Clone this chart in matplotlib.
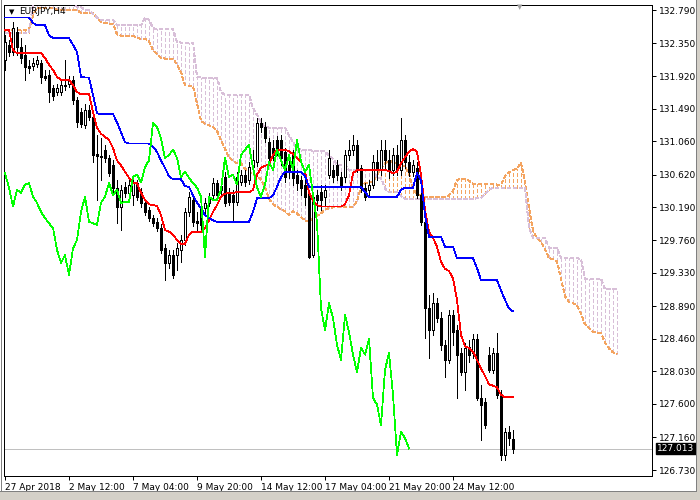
import numpy as np
import matplotlib
matplotlib.use("Agg")
import matplotlib.pyplot as plt
from matplotlib.patches import Rectangle
import matplotlib.transforms as mtransforms

symbol = "EURJPY,H4"

opens = [132.13, 132.33, 132.24, 132.50, 132.30, 132.20, 132.05, 132.05, 132.08, 132.09,
         131.92, 131.93, 131.76, 131.71, 131.71, 131.79, 131.82, 131.87, 131.61, 131.45,
         131.28, 131.47, 131.38, 130.89, 130.87, 130.95, 130.84, 130.75, 130.45, 130.20,
         130.46, 130.38, 130.35, 130.51, 130.39, 130.25, 130.16, 130.05, 130.00, 129.92,
         129.65, 129.46, 129.56, 129.56, 129.63, 129.76, 130.13, 130.29, 130.01, 130.18,
         130.18, 130.25, 130.35, 130.51, 130.47, 130.59, 130.39, 130.35, 130.26, 130.52,
         130.62, 130.55, 130.72, 130.79, 131.30, 131.25, 131.05, 130.97, 131.08, 131.08,
         130.92, 130.75, 130.88, 130.62, 130.55, 130.49, 130.38, 129.56, 130.35, 130.39,
         130.33, 130.62, 130.68, 130.75, 130.59, 130.59, 130.88, 130.95, 131.01, 130.71,
         130.45, 130.42, 130.49, 130.79, 130.68, 130.95, 130.81, 130.68, 130.88, 130.68,
         131.08, 130.79, 130.66, 130.71, 130.35, 130.00, 128.86, 128.57, 128.93, 128.73,
         128.38, 128.18, 128.77, 128.57, 128.27, 128.02, 128.35, 128.27, 128.46, 127.68,
         127.63, 128.25, 128.05, 128.27, 127.72, 126.93, 127.23, 127.14]

highs = [132.46, 132.40, 132.63, 132.57, 132.42, 132.33, 132.13, 132.16, 132.18, 132.13,
         132.00, 132.00, 131.80, 131.82, 131.87, 132.13, 131.92, 131.92, 131.64, 131.50,
         131.55, 131.54, 131.45, 131.14, 131.10, 131.01, 130.88, 130.81, 130.55, 130.49,
         130.52, 130.55, 130.58, 130.55, 130.45, 130.29, 130.20, 130.09, 130.05, 129.97,
         129.71, 129.63, 129.63, 129.72, 129.83, 130.18, 130.39, 130.35, 130.13, 130.23,
         130.31, 130.38, 130.58, 130.55, 130.55, 130.66, 130.45, 130.42, 130.66, 130.68,
         130.68, 130.79, 130.95, 131.37, 131.37, 131.31, 131.10, 131.08, 131.13, 131.14,
         130.97, 130.81, 130.95, 130.68, 130.60, 130.55, 130.42, 130.38, 130.42, 130.49,
         130.49, 130.95, 130.75, 130.81, 130.66, 130.95, 131.08, 131.14, 131.08, 130.75,
         130.51, 130.55, 130.88, 130.95, 131.08, 131.08, 130.95, 130.97, 131.01, 131.37,
         131.14, 130.88, 130.81, 130.79, 130.42, 130.05, 129.04, 129.06, 129.00, 128.81,
         128.44, 128.84, 128.84, 128.64, 128.34, 128.40, 128.44, 128.52, 128.52, 127.85,
         127.68, 128.35, 128.34, 128.54, 127.78, 127.28, 127.31, 127.26]

lows = [132.00, 132.18, 132.20, 132.20, 132.09, 131.87, 131.96, 132.00, 132.04, 131.83,
        131.87, 131.58, 131.61, 131.67, 131.67, 131.74, 131.78, 131.55, 131.25, 131.25,
        131.24, 131.34, 130.79, 130.29, 130.55, 130.79, 130.60, 130.39, 129.98, 129.89,
        130.33, 130.34, 130.22, 130.29, 130.20, 130.09, 130.01, 129.94, 129.88, 129.59,
        129.23, 129.39, 129.26, 129.37, 129.47, 129.69, 130.08, 129.94, 129.89, 129.89,
        130.10, 130.21, 130.31, 130.29, 130.35, 130.21, 130.22, 130.00, 130.22, 130.49,
        130.47, 130.50, 130.66, 130.74, 131.18, 131.05, 130.77, 130.81, 130.88, 130.75,
        130.52, 130.58, 130.49, 130.42, 130.35, 130.22, 129.52, 129.54, 130.16, 130.16,
        130.22, 130.58, 130.52, 130.55, 130.42, 130.52, 130.81, 130.88, 130.66, 130.39,
        130.29, 130.35, 130.45, 130.55, 130.62, 130.71, 130.58, 130.62, 130.62, 130.62,
        130.71, 130.60, 130.60, 130.31, 129.96, 128.47, 128.21, 128.51, 128.68, 128.31,
        127.96, 128.14, 128.38, 127.68, 127.98, 127.78, 128.15, 128.21, 127.65, 127.13,
        127.28, 128.02, 128.01, 127.68, 126.86, 126.86, 127.06, 126.95]

closes = [132.37, 132.24, 132.55, 132.30, 132.16, 132.04, 132.03, 132.09, 132.13, 131.91,
          131.90, 131.71, 131.66, 131.76, 131.80, 131.80, 131.87, 131.61, 131.31, 131.29,
          131.47, 131.38, 130.88, 130.87, 130.85, 130.84, 130.64, 130.45, 130.20, 130.42,
          130.38, 130.49, 130.51, 130.33, 130.25, 130.13, 130.05, 129.98, 129.92, 129.63,
          129.46, 129.56, 129.30, 129.65, 129.76, 130.13, 130.33, 130.00, 129.98, 129.96,
          130.25, 130.33, 130.51, 130.35, 130.42, 130.25, 130.26, 130.26, 130.59, 130.62,
          130.52, 130.72, 130.81, 131.30, 131.25, 131.10, 130.84, 130.88, 130.95, 130.84,
          130.59, 130.66, 130.58, 130.51, 130.45, 130.33, 129.54, 130.33, 130.29, 130.29,
          130.42, 130.84, 130.59, 130.62, 130.49, 130.88, 130.95, 131.01, 130.71, 130.45,
          130.33, 130.49, 130.79, 130.68, 130.95, 130.81, 130.68, 130.88, 130.68, 131.08,
          130.79, 130.66, 130.75, 130.35, 130.00, 128.86, 128.57, 128.93, 128.73, 128.38,
          128.18, 128.77, 128.55, 128.25, 128.02, 128.34, 128.25, 128.46, 127.68, 127.59,
          127.32, 128.05, 128.27, 127.72, 126.93, 127.23, 127.15, 127.013]

tenkan = [132.53, 132.53, 132.26, 132.22, 132.22, 132.22, 132.22, 132.22, 132.22, 132.22,
          132.16, 132.07, 132.00, 131.91, 131.87, 131.87, 131.87, 131.80, 131.71, 131.68,
          131.68, 131.68, 131.45, 131.24, 131.16, 131.12, 131.08, 130.97, 130.81, 130.74,
          130.66, 130.58, 130.51, 130.51, 130.38, 130.29, 130.23, 130.22, 130.21, 130.09,
          129.89, 129.87, 129.83, 129.76, 129.71, 129.71, 129.83, 129.87, 129.87, 129.87,
          129.92, 130.02, 130.13, 130.22, 130.33, 130.37, 130.38, 130.38, 130.39, 130.39,
          130.39, 130.39, 130.42, 130.62, 130.71, 130.74, 130.75, 130.88, 130.95, 130.95,
          130.95, 130.93, 130.89, 130.84, 130.79, 130.66, 130.39, 130.27, 130.22, 130.20,
          130.20, 130.20, 130.20, 130.20, 130.20, 130.23, 130.35, 130.64, 130.68, 130.68,
          130.68, 130.68, 130.68, 130.68, 130.68, 130.68, 130.67, 130.64, 130.66, 130.77,
          130.85, 130.92, 130.96, 130.92, 130.62, 130.16, 129.87, 129.79, 129.67, 129.47,
          129.38, 129.35, 129.26, 128.97, 128.51, 128.36, 128.34, 128.29, 128.18, 128.07,
          127.97, 127.86, 127.84, 127.82, 127.72, 127.69, 127.69, 127.69]

kijun = [132.69, 132.69, 132.69, 132.69, 132.69, 132.69, 132.69, 132.62, 132.59, 132.59,
         132.59, 132.46, 132.42, 132.42, 132.42, 132.42, 132.42, 132.33, 132.24, 131.91,
         131.90, 131.90, 131.67, 131.43, 131.42, 131.42, 131.42, 131.42, 131.31, 131.18,
         131.05, 131.03, 131.03, 131.03, 131.03, 131.03, 131.03, 130.99, 130.92, 130.81,
         130.71, 130.60, 130.56, 130.56, 130.56, 130.47, 130.46, 130.35, 130.25, 130.18,
         130.09, 130.05, 130.02, 130.00, 130.00, 130.00, 130.00, 130.00, 130.00, 130.00,
         130.00, 130.00, 130.13, 130.31, 130.31, 130.31, 130.31, 130.35, 130.46, 130.59,
         130.66, 130.66, 130.66, 130.66, 130.66, 130.60, 130.46, 130.46, 130.46, 130.46,
         130.46, 130.46, 130.46, 130.46, 130.46, 130.46, 130.46, 130.46, 130.46, 130.46,
         130.39, 130.33, 130.33, 130.33, 130.33, 130.33, 130.33, 130.33, 130.33, 130.42,
         130.45, 130.45, 130.45, 130.64, 130.55, 130.09, 129.80, 129.80, 129.80, 129.80,
         129.67, 129.67, 129.67, 129.52, 129.52, 129.52, 129.52, 129.52, 129.39, 129.23,
         129.23, 129.23, 129.23, 129.23, 129.10, 128.97, 128.86, 128.82]

senkou_a = [132.53, 132.53, 132.53, 132.53, 132.53, 132.53, 132.53, 132.72, 132.82, 132.82,
            132.82, 132.82, 132.82, 132.79, 132.79, 132.79, 132.79, 132.79, 132.79, 132.75,
            132.75, 132.75, 132.75, 132.69, 132.63, 132.62, 132.61, 132.61, 132.47, 132.45,
            132.45, 132.45, 132.45, 132.42, 132.41, 132.41, 132.38, 132.26, 132.21, 132.16,
            132.15, 132.15, 132.15, 132.07, 131.97, 131.80, 131.79, 131.79, 131.56, 131.33,
            131.29, 131.27, 131.25, 131.20, 131.07, 130.96, 130.85, 130.80, 130.77, 130.77,
            130.70, 130.66, 130.63, 130.60, 130.56, 130.45, 130.30, 130.23, 130.20, 130.16,
            130.14, 130.09, 130.14, 130.11, 130.06, 130.02, 130.00, 130.04, 130.08, 130.11,
            130.16, 130.18, 130.19, 130.19, 130.20, 130.20, 130.20, 130.20, 130.27, 130.46,
            130.51, 130.52, 130.53, 130.62, 130.70, 130.77, 130.80, 130.79, 130.77, 130.75,
            130.72, 130.63, 130.43, 130.37, 130.34, 130.33, 130.33, 130.33, 130.33, 130.33,
            130.33, 130.35, 130.41, 130.55, 130.57, 130.57, 130.54, 130.50, 130.50, 130.50,
            130.50, 130.50, 130.50, 130.49, 130.49, 130.60, 130.65, 130.68, 130.70, 130.78,
            130.52, 130.19, 129.88, 129.79, 129.73, 129.64, 129.52, 129.51, 129.48, 129.25,
            129.02, 128.94, 128.93, 128.90, 128.79, 128.65, 128.60, 128.55, 128.54, 128.53,
            128.41, 128.33, 128.28, 128.26]

senkou_b = [132.49, 132.49, 132.49, 132.49, 132.49, 132.49, 132.49, 132.87, 132.87, 132.87,
            132.87, 132.87, 132.87, 132.87, 132.87, 132.87, 132.87, 132.87, 132.83, 132.83,
            132.79, 132.79, 132.74, 132.69, 132.66, 132.66, 132.66, 132.66, 132.59, 132.59,
            132.59, 132.59, 132.59, 132.59, 132.59, 132.69, 132.66, 132.55, 132.54, 132.54,
            132.54, 132.54, 132.54, 132.37, 132.36, 132.36, 132.36, 132.36, 131.91, 131.90,
            131.90, 131.90, 131.90, 131.90, 131.71, 131.67, 131.67, 131.67, 131.67, 131.67,
            131.67, 131.67, 131.50, 131.41, 131.31, 131.25, 131.24, 131.24, 131.24, 131.24,
            131.24, 131.14, 131.05, 130.97, 130.95, 130.95, 130.95, 130.93, 130.93, 130.93,
            130.93, 130.87, 130.83, 130.75, 130.75, 130.75, 130.68, 130.68, 130.68, 130.68,
            130.68, 130.68, 130.68, 130.58, 130.58, 130.44, 130.39, 130.39, 130.39, 130.34,
            130.30, 130.30, 130.30, 130.30, 130.30, 130.30, 130.30, 130.30, 130.30, 130.30,
            130.30, 130.30, 130.30, 130.30, 130.30, 130.30, 130.30, 130.30, 130.31, 130.31,
            130.37, 130.42, 130.45, 130.45, 130.45, 130.45, 130.45, 130.45, 130.45, 130.45,
            130.45, 129.92, 129.79, 129.79, 129.79, 129.79, 129.66, 129.66, 129.66, 129.52,
            129.52, 129.52, 129.52, 129.52, 129.51, 129.25, 129.25, 129.25, 129.25, 129.25,
            129.11, 129.11, 129.11, 129.11]

chikou_shift = 26
price_ticks = [132.790, 132.350, 131.920, 131.490, 131.060, 130.620, 130.190, 129.760,
               129.330, 128.890, 128.460, 128.030, 127.600, 127.160, 126.730]
date_labels = ["27 Apr 2018", "2 May 12:00", "7 May 04:00", "9 May 20:00",
               "14 May 12:00", "17 May 04:00", "21 May 20:00", "24 May 12:00"]
date_bars = [0, 16, 32, 48, 64, 80, 96, 112]
last_price = 127.013

# ---------------------------------------------------------------- figure
W, H = 700, 500
fig = plt.figure(figsize=(7, 5), dpi=100)
fig.patch.set_facecolor("white")
PX = 0.72   # one pixel in points
LW = 0.55   # thin aliased line width

ax = fig.add_axes([4 / W, 1 - 476 / H, 648 / W, 471 / H])
ax.set_facecolor("white")
ax.set_xlim(-0.25, 161.75)
ax.set_ylim(126.651, 132.856)

FS = 6.5
BLACK = "#000000"
ORANGE = "#F4A460"
LILAC = "#D8BFD8"

# price line
ax.axhline(last_price, color="#C0C0C0", lw=LW, zorder=1, antialiased=False)

# cloud hatching
xa = np.arange(len(senkou_a))
sa = np.array(senkou_a)
sb = np.array(senkou_b)
cols = [ORANGE if a >= b else LILAC for a, b in zip(sa, sb)]
ax.vlines(xa, np.minimum(sa, sb), np.maximum(sa, sb), colors=cols,
          linestyles=[(0, (4, 3))], lw=LW, zorder=2, antialiased=False)
ax.plot(xa, sa, color=ORANGE, lw=LW, ls=(0, (4, 3)), zorder=3, antialiased=False)
ax.plot(xa, sb, color=LILAC, lw=LW, ls=(0, (4, 3)), zorder=3, antialiased=False)

# candles
n = len(closes)
xs = np.arange(n)
ax.vlines(xs, lows, highs, color=BLACK, lw=LW, zorder=4, antialiased=False)
for i in range(n):
    o, c = opens[i], closes[i]
    bottom = min(o, c)
    height = max(abs(c - o), 0.004)
    fc = "white" if c > o else BLACK
    ax.add_patch(Rectangle((i - 0.25, bottom), 0.5, height, facecolor=fc,
                           edgecolor=BLACK, lw=LW, zorder=5, antialiased=False))

# ichimoku lines
ax.plot(xs, tenkan, color="#FF0000", lw=LW, zorder=6, antialiased=False)
ax.plot(xs, kijun, color="#0000FF", lw=LW, zorder=6, antialiased=False)
ax.plot(xs[:n - chikou_shift], closes[chikou_shift:], color="#00FF00", lw=LW,
        zorder=6, antialiased=False)

# axes styling
for s in ax.spines.values():
    s.set_color(BLACK)
    s.set_linewidth(PX)
ax.yaxis.tick_right()
ax.set_yticks(price_ticks)
ax.set_yticklabels([f"{p:.3f}" for p in price_ticks])
ax.tick_params(axis="y", direction="out", length=3, width=PX, pad=2,
               labelsize=FS, colors=BLACK)
ax.set_xticks(date_bars)
ax.set_xticklabels(date_labels, ha="left")
ax.tick_params(axis="x", direction="out", length=3, width=PX, pad=2,
               labelsize=FS, colors=BLACK)

# last price tag
trans = mtransforms.blended_transform_factory(ax.transAxes, ax.transData)
ax.text(1.0 + 5 / 648, last_price, f"{last_price:.3f}", transform=trans,
        ha="left", va="center", fontsize=FS, color="white", zorder=10,
        bbox=dict(boxstyle="square,pad=0.15", facecolor=BLACK, edgecolor=BLACK),
        clip_on=False)

# symbol caption
fig.text(12 / W, 1 - 12 / H, "\u25BC", fontsize=5, ha="center", va="center", color=BLACK)
fig.text(19 / W, 1 - 12 / H, symbol, fontsize=FS, ha="left", va="center", color=BLACK)
# shift marker
fig.text(520 / W, 1 - 7 / H, "\u25BC", fontsize=5, ha="center", va="center", color="#A0A0A0")

# window frame
fig.patches.append(Rectangle((0, 0), 1, 9 / H, transform=fig.transFigure,
                             facecolor="#D4D0C8", edgecolor="none", zorder=0))
fig.patches.append(Rectangle((696 / W, 0), 4 / W, 1, transform=fig.transFigure,
                             facecolor="#D4D0C8", edgecolor="none", zorder=0))
fig.lines.append(plt.Line2D([0, 696 / W], [9 / H, 9 / H], transform=fig.transFigure,
                            color="#808080", lw=PX))
fig.lines.append(plt.Line2D([696 / W, 696 / W], [9 / H, 1], transform=fig.transFigure,
                            color="#808080", lw=PX))
fig.lines.append(plt.Line2D([1 / W, 1 / W], [9 / H, 1], transform=fig.transFigure,
                            color="#808080", lw=PX))

fig.savefig("out.png", dpi=100, facecolor="white")
